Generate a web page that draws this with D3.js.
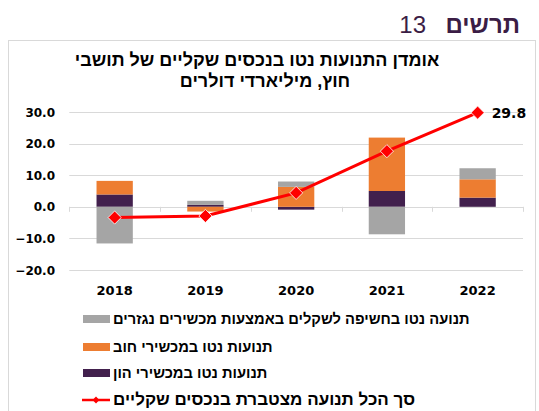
<!DOCTYPE html>
<html>
<head>
<meta charset="utf-8">
<script src="https://cdn.jsdelivr.net/npm/d3@7"></script>
<style>
  body { margin: 0; background: #fff; }
  svg { display: block; }
</style>
</head>
<body>
<div id="chart"></div>
<script>
// data, billion dollars
const years = ["2018", "2019", "2020", "2021", "2022"];
const capital = [3.9, 0.6, -0.9, 5.0, 2.9];   // net flows in equity instruments
const debt = [4.3, -1.5, 6.3, 16.9, 5.8];      // net flows in debt instruments
const hedge = [-11.6, 1.3, 1.7, -8.7, 3.5];    // net exposure via derivatives
const cumulative = [-3.4, -2.9, 4.4, 17.6, 29.8];
const yTicks = [-20, -10, 0, 10, 20, 30];

const seriesNames = {
  capital: "תנועות נטו במכשירי הון",
  debt: "תנועות נטו במכשירי חוב",
  hedge: "תנועה נטו בחשיפה לשקלים באמצעות מכשירים נגזרים",
  line: "סך הכל תנועה מצטברת בנכסים שקליים"
};
const colors = {capital: "#42204d", debt: "#ed7d31", hedge: "#a5a5a5", line: "#ff0000"};

const W = 539, H = 411;
const plot = {left: 69.3, right: 523, top: 112, bottom: 270};

const svg = d3.select("#chart")
  .append("svg")
    .attr("width", W)
    .attr("height", H);

// frame
svg.append("rect")
  .attr("x", 8.5).attr("y", 40.5)
  .attr("width", 527).attr("height", 380)
  .attr("fill", "none")
  .attr("stroke", "#d9d9d9");

// heading
svg.append("text")
  .attr("x", 520).attr("y", 33)
  .attr("text-anchor", "end")
  .attr("font-family", "Liberation Sans, Arial, sans-serif")
  .attr("font-size", 24).attr("font-weight", "bold")
  .attr("fill", "#3b1d45")
  .text("תרשים");
svg.append("text")
  .attr("x", 426).attr("y", 33)
  .attr("text-anchor", "end")
  .attr("font-family", "Liberation Sans, Arial, sans-serif")
  .attr("font-size", 24)
  .attr("fill", "#3b1d45")
  .text("13");

// chart title
const titleLines = ["אומדן התנועות נטו בנכסים שקליים של תושבי", "חוץ, מיליארדי דולרים"];
svg.selectAll(".title")
  .data(titleLines)
  .join("text")
    .attr("class", "title")
    .attr("x", (d, i) => i === 0 ? 257 : 265)
    .attr("y", (d, i) => 66 + i * 21)
    .attr("text-anchor", "middle")
    .attr("direction", "rtl")
    .attr("font-family", "Liberation Sans, Arial, sans-serif")
    .attr("font-size", 18).attr("font-weight", "bold")
    .attr("fill", "#000")
    .text(d => d);

// scales
const x = d3.scaleBand()
  .domain(years)
  .range([plot.left, plot.right])
  .paddingInner(0.6)
  .paddingOuter(0.3);

const y = d3.scaleLinear()
  .domain([-20, 30])
  .range([plot.bottom, plot.top]);

// gridlines
svg.append("g")
  .selectAll("line")
  .data(yTicks)
  .join("line")
    .attr("x1", plot.left).attr("x2", plot.right)
    .attr("y1", d => Math.round(y(d)) + 0.5)
    .attr("y2", d => Math.round(y(d)) + 0.5)
    .attr("stroke", "#d9d9d9");

// y labels
svg.append("g")
  .selectAll("text")
  .data(yTicks)
  .join("text")
    .attr("x", 55)
    .attr("y", d => y(d) + 4.5)
    .attr("text-anchor", "end")
    .attr("font-family", "DejaVu Sans, sans-serif")
    .attr("font-size", 12).attr("font-weight", "bold")
    .text(d => d3.format(".1f")(d));

// x axis on zero line, ticks at category boundaries
const step = x.step();
const boundaries = d3.range(years.length + 1).map(i => plot.left + i * step);
svg.append("g")
  .selectAll("line")
  .data(boundaries)
  .join("line")
    .attr("x1", d => Math.round(d) + 0.5).attr("x2", d => Math.round(d) + 0.5)
    .attr("y1", y(0)).attr("y2", y(0) + 5)
    .attr("stroke", "#d9d9d9");

svg.append("g")
  .selectAll("text")
  .data(years)
  .join("text")
    .attr("x", d => x(d) + x.bandwidth() / 2)
    .attr("y", 295)
    .attr("text-anchor", "middle")
    .attr("font-family", "DejaVu Sans, sans-serif")
    .attr("font-size", 13).attr("font-weight", "bold")
    .text(d => d);

// stacked bars
const rows = years.map((yr, i) => ({year: yr, capital: capital[i], debt: debt[i], hedge: hedge[i]}));
const stacked = d3.stack()
  .keys(["capital", "debt", "hedge"])
  .offset(d3.stackOffsetDiverging)(rows);

svg.append("g")
  .selectAll("g")
  .data(stacked)
  .join("g")
    .attr("fill", d => colors[d.key])
  .selectAll("rect")
  .data(d => d)
  .join("rect")
    .attr("x", d => x(d.data.year))
    .attr("width", x.bandwidth())
    .attr("y", d => y(Math.max(d[0], d[1])))
    .attr("height", d => Math.abs(y(d[0]) - y(d[1])));

// cumulative line
const linePts = years.map((yr, i) => [x(yr) + x.bandwidth() / 2, y(cumulative[i])]);
svg.append("path")
  .attr("d", d3.line()(linePts))
  .attr("fill", "none")
  .attr("stroke", colors.line)
  .attr("stroke-width", 3);

const diamond = d3.symbol().type(d3.symbolDiamond2).size(110);
svg.append("g")
  .selectAll("path")
  .data(linePts)
  .join("path")
    .attr("transform", d => `translate(${d[0]},${d[1]})`)
    .attr("d", diamond)
    .attr("fill", colors.line)
    .attr("stroke", "#fff")
    .attr("stroke-width", 0.8);

// last value label
svg.append("text")
  .attr("x", linePts[linePts.length - 1][0] + 14)
  .attr("y", linePts[linePts.length - 1][1] + 5)
  .attr("font-family", "DejaVu Sans, sans-serif")
  .attr("font-size", 14).attr("font-weight", "bold")
  .text(d3.format(".1f")(cumulative[cumulative.length - 1]));

// legend
const legendItems = ["hedge", "debt", "capital", "line"];
const legendY = [319, 347, 373, 400];
const lg = svg.append("g");
legendItems.forEach((k, i) => {
  const ly = legendY[i];
  if (k === "line") {
    lg.append("line")
      .attr("x1", 82).attr("x2", 110)
      .attr("y1", ly).attr("y2", ly)
      .attr("stroke", colors.line).attr("stroke-width", 2.5);
    lg.append("path")
      .attr("transform", `translate(96,${ly})`)
      .attr("d", d3.symbol().type(d3.symbolDiamond2).size(30))
      .attr("fill", colors.line);
  } else {
    lg.append("rect")
      .attr("x", 83).attr("y", ly - 4)
      .attr("width", 27).attr("height", 8)
      .attr("fill", colors[k]);
  }
  lg.append("text")
    .attr("x", 113)
    .attr("y", ly + 5)
    .attr("text-anchor", "start")
    .attr("font-family", "Liberation Sans, Arial, sans-serif")
    .attr("font-size", k === "line" ? 17 : 14.7).attr("font-weight", "bold")
    .text(seriesNames[k]);
});
</script>
</body>
</html>
